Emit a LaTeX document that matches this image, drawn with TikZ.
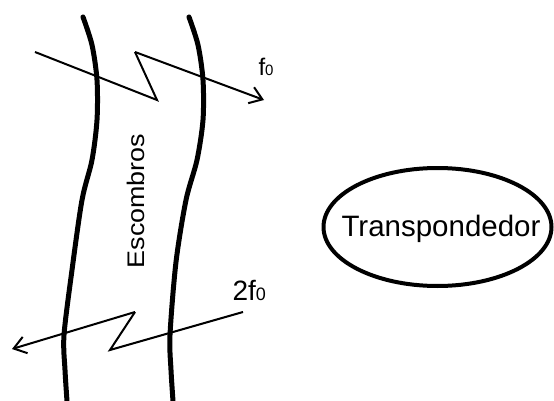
\documentclass[tikz,border=0pt]{standalone}
\usepackage{fontspec}
\setmainfont{Liberation Sans}
\usetikzlibrary{arrows.meta}
\begin{document}
\begin{tikzpicture}[x=1pt,y=-1pt,
    layer line/.style={line width=5pt,line cap=round},
    wave line/.style={line width=2pt,line join=miter},
    wave tip/.style={-{Straight Barb[length=12pt,width=17pt,line width=2pt]}},
    box node/.style={inner sep=0pt,font=\fontsize{29.5}{33}\selectfont}]
                \useasboundingbox (0,0) rectangle (554,401);

                % camadas de escombros
                \draw[layer line] plot[smooth] coordinates {(83,17) (92,45) (97,80) (97,120) (92,160) (82,200) (72,270) (64,335) (65,370) (67,401)};
                \draw[layer line] plot[smooth] coordinates {(189,17) (198,45) (203,80) (203,120) (197,160) (186,200) (176,262) (170,335) (171,370) (173,401)};
                \node[rotate=90,xscale=1.12,font=\fontsize{24}{28}\selectfont] at (135.5,201) (esc) {Escombros};

                \node[box node] at (441,229) (tr) {Transpondedor};
                \draw[line width=4pt] (437.5,227) ellipse [x radius=114, y radius=59];

                % onda f0
                \coordinate (a1) at (35,52);
                \coordinate (a2) at (157,100);
                \coordinate (a3) at (135,52);
                \coordinate (a4) at (264,100);
                \draw[wave line] (a1) -- (a2) -- (a3);
                \path[wave line,wave tip] (a3) edge (a4);
                \node[font=\fontsize{24}{28}\selectfont,anchor=base west] at (255,76) (f) {f{\fontsize{15}{17}\selectfont 0}};

                % onda 2f0
                \coordinate (b1) at (243,312);
                \coordinate (b2) at (110,350);
                \coordinate (b3) at (135,312);
                \coordinate (b4) at (12,349);
                \draw[wave line] (b1) -- (b2) -- (b3);
                \path[wave line,wave tip] (b3) edge (b4);
                \node[font=\fontsize{28}{32}\selectfont,anchor=base west] at (229,300) (f2) {2f{\fontsize{18}{20}\selectfont 0}};
            \end{tikzpicture}
\end{document}
